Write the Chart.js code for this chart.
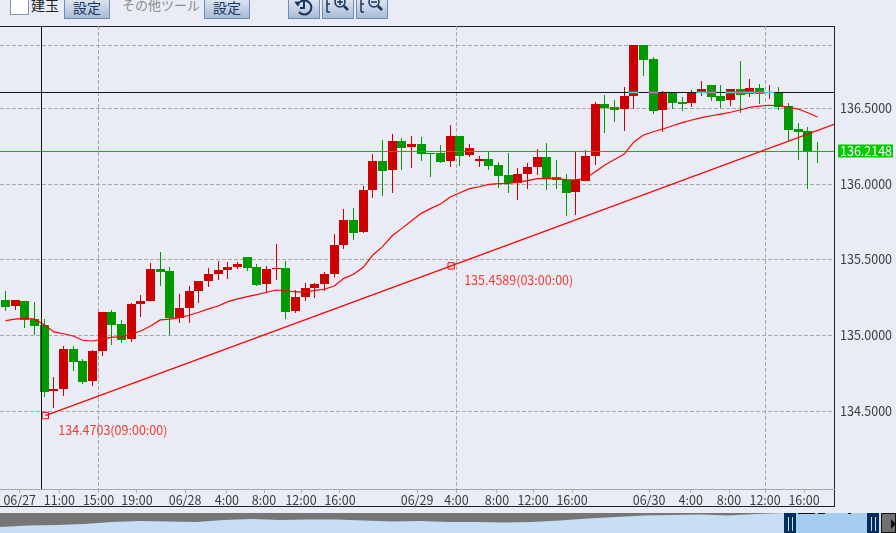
<!DOCTYPE html>
<html lang="ja">
<head>
<meta charset="utf-8">
<title>USD/JPY chart</title>
<script src="https://cdn.jsdelivr.net/npm/chart.js@4/dist/chart.umd.min.js"></script>
<style>
    html, body { margin: 0; padding: 0; background: #e9ecf5; overflow: hidden; width: 896px; height: 533px; font-family: "Noto Sans CJK JP", sans-serif; }
    canvas { position: absolute; display: block; }
    .abs { position: absolute; box-sizing: border-box; }
    .check { left: 10px; top: -2px; width: 19px; height: 17px; background: #fff; border: 1px solid #7f93b8; }
    .btn { top: -4px; height: 23px; border: 1px solid #6d8dbb; background: linear-gradient(#e6ebf3, #a9bad6); color: #16365f; font-size: 14px; line-height: 21px; text-align: center; }
    .label { font-size: 13px; line-height: 14px; white-space: nowrap; }
    .frame { left: -1px; top: 26px; width: 836px; height: 481px; border: 1px solid #222; }
    .nav-fill { left: 784px; top: 513px; width: 97px; height: 20px; background: #c8def5; }
    .nav-sel { left: 796px; top: 513px; width: 71px; height: 20px; background: #a4cdf0; }
    .nav-handle { top: 513px; width: 12px; height: 20px; background: #012e5c; }
    .nav-handle::after { content: ""; position: absolute; left: 4px; top: 4px; width: 3px; height: 14px; border-left: 1px solid #c8def5; border-right: 1px solid #c8def5; }
    .nav-btn { left: 881px; top: 513px; width: 15px; height: 20px; background: #707070; border: 1px solid #111; }
    .nav-btn::after { content: ""; position: absolute; left: 9px; top: 5px; border-left: 5px solid #111; border-top: 5px solid transparent; border-bottom: 5px solid transparent; }
    .nav-mark { top: 513px; height: 1px; background: #111; }
    svg { position: absolute; left: 0; top: 0; }
</style>
</head>
<body>
<!-- toolbar -->
<div class="abs check"></div>
<div class="abs label" style="left:31px;top:-2px;color:#222;font-size:14px">建玉</div>
<div class="abs btn" style="left:64px;width:46px">設定</div>
<div class="abs label" style="left:122px;top:-2px;color:#8c8c8c">その他ツール</div>
<div class="abs btn" style="left:204px;width:46px">設定</div>
<div class="abs btn" style="left:288px;width:32px">
    <svg width="30" height="21" fill="none" stroke="#16365f" stroke-width="2">
        <path d="M11 5 a7 7 0 1 1 -1 10"/><path d="M15 4 v7 h-4"/><path d="M6 5 h5 l-2 4 z" fill="#16365f" stroke-width="1"/>
    </svg>
</div>
<div class="abs btn" style="left:322px;width:32px">
    <svg width="30" height="21" fill="none" stroke="#16365f" stroke-width="1.5">
        <path d="M6 2 h-2 v13 M4 15 h3 M4 7 h3"/><circle cx="17" cy="5" r="5"/><path d="M21 9 l4 4" stroke-width="2.5"/><path d="M14 5 h6 M17 2 v6"/>
    </svg>
</div>
<div class="abs btn" style="left:356px;width:32px">
    <svg width="30" height="21" fill="none" stroke="#16365f" stroke-width="1.5">
        <path d="M6 2 h-2 v13 M4 15 h3 M4 7 h3"/><circle cx="17" cy="5" r="5"/><path d="M21 9 l4 4" stroke-width="2.5"/><path d="M14 5 h6"/>
    </svg>
</div>

<div class="abs frame"></div>
<canvas id="priceChart" width="896" height="533" style="left:0;top:0"></canvas>

<!-- range navigator -->
<canvas id="navChart" width="784" height="20" style="left:0;top:513px;background:#767676"></canvas>
<div class="abs nav-fill"></div>
<div class="abs nav-sel"></div>
<div class="abs nav-handle" style="left:784px"></div>
<div class="abs nav-handle" style="left:867px"></div>
<div class="abs nav-btn"></div>
<div class="abs nav-mark" style="left:798px;width:17px"></div>
<div class="abs nav-mark" style="left:818px;width:7px"></div>
<div class="abs nav-mark" style="left:848px;width:3px"></div>

<script>
const opens = [135.234, 135.194, 135.227, 135.109, 135.069, 134.633, 134.646, 134.910, 134.831, 134.699,
    134.897, 135.155, 135.075, 134.976, 135.208, 135.227, 135.439, 135.426, 135.115, 135.181,
    135.293, 135.359, 135.406, 135.432, 135.452, 135.518, 135.452, 135.340, 135.439, 135.445,
    135.161, 135.254, 135.313, 135.340, 135.406, 135.597, 135.762, 135.683, 135.961, 136.152,
    136.093, 136.284, 136.244, 136.264, 136.205, 136.205, 136.152, 136.317, 136.192, 136.152,
    136.165, 136.125, 136.059, 136.007, 136.066, 136.112, 136.178, 136.046, 136.027, 135.948,
    136.020, 136.185, 136.528, 136.508, 136.495, 136.581, 136.918, 136.825, 136.489, 136.601,
    136.541, 136.535, 136.601, 136.654, 136.581, 136.555, 136.627, 136.594, 136.634, 136.601,
    136.601, 136.515, 136.363, 136.350, 136.218];
const closes = [135.188, 135.234, 135.102, 135.062, 134.626, 134.646, 134.910, 134.824, 134.692, 134.897,
    135.155, 135.069, 134.970, 135.208, 135.227, 135.439, 135.419, 135.115, 135.181, 135.293,
    135.359, 135.406, 135.432, 135.452, 135.472, 135.445, 135.333, 135.439, 135.445, 135.155,
    135.254, 135.313, 135.340, 135.406, 135.597, 135.762, 135.677, 135.961, 136.152, 136.086,
    136.284, 136.238, 136.264, 136.198, 136.198, 136.145, 136.317, 136.185, 136.238, 136.165,
    136.119, 136.053, 136.007, 136.066, 136.112, 136.178, 136.040, 136.027, 135.941, 136.027,
    136.185, 136.528, 136.502, 136.489, 136.581, 136.918, 136.819, 136.482, 136.601, 136.535,
    136.528, 136.601, 136.627, 136.575, 136.548, 136.627, 136.588, 136.634, 136.594, 136.608,
    136.509, 136.357, 136.343, 136.211, 136.211];
const highs = [135.293, 135.234, 135.227, 135.221, 135.109, 134.725, 134.930, 134.930, 134.844, 134.904,
    135.155, 135.168, 135.102, 135.214, 135.267, 135.478, 135.551, 135.452, 135.274, 135.326,
    135.359, 135.445, 135.492, 135.485, 135.485, 135.518, 135.472, 135.459, 135.604, 135.492,
    135.300, 135.346, 135.346, 135.419, 135.670, 135.835, 135.842, 135.987, 136.198, 136.291,
    136.330, 136.304, 136.317, 136.311, 136.205, 136.258, 136.390, 136.317, 136.264, 136.185,
    136.218, 136.145, 136.205, 136.105, 136.139, 136.231, 136.271, 136.158, 136.066, 136.211,
    136.224, 136.541, 136.588, 136.555, 136.641, 136.918, 136.918, 136.839, 136.614, 136.601,
    136.575, 136.621, 136.680, 136.654, 136.654, 136.627, 136.812, 136.693, 136.660, 136.654,
    136.641, 136.535, 136.403, 136.377, 136.277];
const lows = [135.161, 135.168, 135.049, 135.003, 134.593, 134.521, 134.600, 134.765, 134.679, 134.666,
    134.864, 134.937, 134.950, 134.957, 135.122, 135.227, 135.326, 135.003, 135.082, 135.082,
    135.214, 135.320, 135.366, 135.373, 135.439, 135.426, 135.326, 135.287, 135.366, 135.109,
    135.148, 135.227, 135.247, 135.293, 135.386, 135.571, 135.630, 135.677, 135.908, 135.921,
    135.941, 136.093, 136.105, 136.152, 136.046, 136.139, 136.112, 136.119, 136.178, 136.112,
    136.093, 135.974, 135.941, 135.894, 135.968, 136.059, 135.961, 135.968, 135.789, 135.795,
    136.020, 136.125, 136.337, 136.409, 136.350, 136.495, 136.713, 136.462, 136.343, 136.495,
    136.482, 136.509, 136.581, 136.548, 136.502, 136.515, 136.469, 136.575, 136.528, 136.561,
    136.489, 136.284, 136.158, 135.968, 136.139];
const movingAverage = [135.097, 135.107, 135.113, 135.107, 135.071, 135.023, 135.011, 134.996, 134.968, 134.963,
    134.974, 134.988, 134.988, 135.009, 135.029, 135.062, 135.102, 135.107, 135.117, 135.133,
    135.153, 135.175, 135.194, 135.223, 135.241, 135.256, 135.269, 135.285, 135.300, 135.295,
    135.287, 135.287, 135.298, 135.305, 135.326, 135.377, 135.404, 135.450, 135.531, 135.586,
    135.658, 135.707, 135.757, 135.806, 135.839, 135.868, 135.914, 135.942, 135.969, 135.982,
    135.998, 136.002, 136.004, 136.013, 136.022, 136.035, 136.037, 136.035, 136.029, 136.027,
    136.037, 136.081, 136.125, 136.162, 136.198, 136.278, 136.324, 136.345, 136.363, 136.385,
    136.405, 136.423, 136.438, 136.451, 136.462, 136.474, 136.489, 136.507, 136.515, 136.520,
    136.517, 136.507, 136.495, 136.471, 136.443];

// x is the candle number, so the axis stays in candle units
const xMin = -0.569;
const xMax = 85.7;
const yMin = 133.9855;
const yMax = 137.0436;

const xTickValues = [1.47, 5.57, 9.62, 13.6, 18.57, 22.9, 26.74, 30.57, 34.6, 42.57, 46.65, 50.84, 54.57, 58.6, 66.57, 70.88, 74.84, 78.57, 82.6];
const xTickLabels = ['06/27', '11:00', '15:00', '19:00', '06/28', '4:00', '8:00', '12:00', '16:00', '06/29', '4:00', '8:00', '12:00', '16:00', '06/30', '4:00', '8:00', '12:00', '16:00'];
const xGridValues = [9.62, 46.65, 78.57];
const yTickValues = [134.5, 135, 135.5, 136, 136.5, 136.918];
const yTickLabels = ['134.5000', '135.0000', '135.5000', '136.0000', '136.5000', ''];

const trendX = [4.12, 46.1, 85.7];
const trendY = [134.4703, 135.4589, 136.394];
const trendNotes = ['134.4703(09:00:00)', '135.4589(03:00:00)'];

const crossX = 3.724;
const crossY = 136.6044;
const lastPrice = 136.2148;

const navValues = [6, 7.5, 8, 9, 11, 12, 11.5, 11, 13, 14, 13, 13.5, 13.5, 12.5, 11.5, 12, 11, 11, 10.5, 11, 12.5, 14.5, 16, 17.5, 18, 18.5, 17.5, 19, 20];

const RED = 'rgb(204,0,0)';
const GREEN = 'rgb(0,153,0)';
const LINE_RED = 'rgb(255,0,0)';
const TEXT = '#3c3c3c';
const FONT = '"Noto Sans CJK JP", sans-serif';

const candleColors = opens.map((o, i) => closes[i] >= o ? RED : GREEN);
const wicks = opens.map((o, i) => ({ x: i, y: [lows[i], highs[i]] }));
const bodies = opens.map((o, i) => ({ x: i, y: [o, closes[i]] }));
const maPoints = movingAverage.map((v, i) => ({ x: i, y: v }));
const trendPoints = trendX.map((x, i) => ({ x, y: trendY[i] }));

// where the black line crosses a body its colour is inverted
const crossed = opens.map((o, i) => i).filter(i => Math.min(opens[i], closes[i]) < crossY && Math.max(opens[i], closes[i]) > crossY);
const crossMarks = crossed.map(i => ({ x: i, y: [crossY - 0.003, crossY + 0.003] }));
const crossMarkColors = crossed.map(i => candleColors[i] === RED ? '#33e0e0' : '#e060d8');

// keep bars on whole pixels, the original candles are not antialiased
const snapBars = {
    id: 'snapBars',
    afterDatasetsUpdate(chart) {
        chart.data.datasets.forEach((ds, i) => {
            if (ds.type !== 'bar') return;
            chart.getDatasetMeta(i).data.forEach(el => {
                el.x = Math.floor(el.x) + 0.5;
                el.y = Math.round(el.y);
                el.base = Math.round(el.base);
                if (el.y === el.base) el.base += 1;
            });
        });
    }
};

const priceNotes = {
    id: 'priceNotes',
    afterDraw(chart) {
        const { ctx, scales: { x, y } } = chart;
        ctx.save();
        ctx.font = '12.5px ' + FONT;
        ctx.textBaseline = 'middle';
        // trend line anchor notes
        ctx.fillStyle = 'rgb(240,60,50)';
        trendNotes.forEach((note, i) => {
            ctx.fillText(note, x.getPixelForValue(trendX[i]) + 13, y.getPixelForValue(trendY[i]) + 14.5);
        });
        // last price tag
        const py = y.getPixelForValue(lastPrice);
        ctx.fillStyle = 'rgb(0,204,0)';
        ctx.fillRect(838, Math.round(py) - 6.5, 55, 13);
        ctx.fillStyle = '#fff';
        ctx.fillText(lastPrice.toFixed(4), 840, py);
        ctx.restore();
    }
};

new Chart(document.getElementById('priceChart'), {
    data: {
        datasets: [
            { type: 'line', data: [{ x: crossX, y: yMin }, { x: crossX, y: yMax }], borderColor: '#111', borderWidth: 1, pointRadius: 0, order: 2 },
            { type: 'bar', data: crossMarks, backgroundColor: crossMarkColors, barThickness: 9, order: 1 },
            { type: 'line', data: [{ x: xMin, y: crossY }, { x: xMax, y: crossY }], borderColor: '#111', borderWidth: 1, pointRadius: 0, order: 3 },
            { type: 'line', data: maPoints, borderColor: LINE_RED, borderWidth: 1.2, pointRadius: 0, tension: 0, order: 4 },
            {
                type: 'line', data: trendPoints, borderColor: LINE_RED, borderWidth: 1.2, tension: 0, order: 4,
                pointStyle: 'rect', pointRadius: [4.5, 4.5, 0], pointBorderColor: LINE_RED, pointBorderWidth: 1, pointBackgroundColor: 'rgba(0,0,0,0)'
            },
            { type: 'line', data: [{ x: xMin, y: lastPrice }, { x: xMax, y: lastPrice }], borderColor: 'rgb(0,187,0)', borderWidth: 1, pointRadius: 0, order: 5 },
            { type: 'bar', data: bodies, backgroundColor: candleColors, barThickness: 9, inflateAmount: 0, order: 6 },
            { type: 'bar', data: wicks, backgroundColor: candleColors, barThickness: 1, inflateAmount: 0, order: 7 }
        ]
    },
    options: {
        responsive: false,
        animation: false,
        events: [],
        layout: { padding: { top: 26 }, autoPadding: false },
        plugins: { legend: { display: false }, tooltip: { enabled: false } },
        datasets: { bar: { grouped: false } },
        scales: {
            x: {
                type: 'linear',
                min: xMin,
                max: xMax,
                offset: false,
                afterBuildTicks: scale => { scale.ticks = xTickValues.map(value => ({ value })); },
                afterFit: scale => {
                    scale.height = 44;
                    scale.paddingLeft = 0;
                    scale.paddingRight = 0;
                },
                ticks: {
                    autoSkip: false, maxRotation: 0, padding: 0, color: TEXT,
                    font: { family: FONT, size: 12.5 },
                    callback: (value, i) => xTickLabels[i]
                },
                grid: {
                    offset: false,
                    color: ctx => ctx.tick && xGridValues.includes(ctx.tick.value) ? '#a8a8a8' : 'rgba(0,0,0,0)',
                    tickColor: '#b0b0b0',
                    tickLength: 4,
                    lineWidth: 1
                },
                border: { color: '#a8a8a8', dash: [4, 2] }
            },
            y: {
                type: 'linear',
                position: 'right',
                min: yMin,
                max: yMax,
                afterBuildTicks: scale => { scale.ticks = yTickValues.map(value => ({ value })); },
                afterFit: scale => {
                    scale.width = 62;
                    scale.paddingTop = 0;
                    scale.paddingBottom = 0;
                },
                ticks: {
                    padding: 6, color: TEXT,
                    font: { family: FONT, size: 12.5 },
                    callback: (value, i) => yTickLabels[i]
                },
                grid: { color: '#a8a8a8', drawTicks: false, lineWidth: 1 },
                border: { display: false, dash: [4, 2] }
            }
        }
    },
    plugins: [snapBars, priceNotes]
});

new Chart(document.getElementById('navChart'), {
    type: 'line',
    data: {
        labels: navValues.map((v, i) => i),
        datasets: [{ data: navValues, borderWidth: 0, pointRadius: 0, fill: 'start', backgroundColor: '#c8def5', tension: 0 }]
    },
    options: {
        responsive: false,
        animation: false,
        events: [],
        layout: { autoPadding: false },
        plugins: { legend: { display: false }, tooltip: { enabled: false } },
        scales: {
            x: { display: false, offset: false },
            y: { display: false, min: 0, max: 20 }
        }
    }
});
</script>
</body>
</html>
